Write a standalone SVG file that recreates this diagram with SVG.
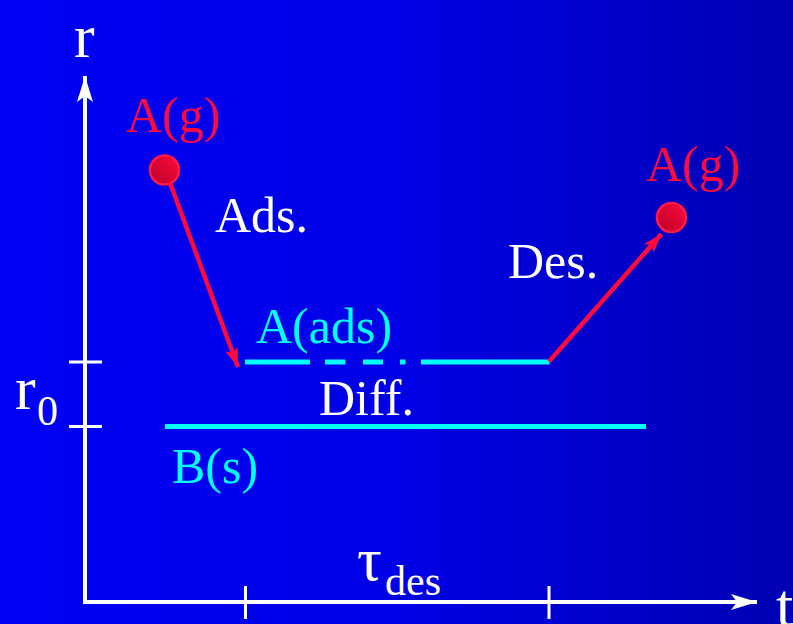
<svg xmlns="http://www.w3.org/2000/svg" width="793" height="624" viewBox="0 0 793 624">
  <defs>
    <linearGradient id="bg" x1="0" y1="0" x2="793" y2="0" gradientUnits="userSpaceOnUse">
      <stop offset="0" stop-color="#0000f4"/>
      <stop offset="0.5" stop-color="#0000e6"/>
      <stop offset="1" stop-color="#0000b2"/>
    </linearGradient>
    <linearGradient id="ball" x1="0" y1="1" x2="1" y2="0">
      <stop offset="0" stop-color="#b8002a"/>
      <stop offset="1" stop-color="#ff0a3c"/>
    </linearGradient>
    <marker id="axisHead" markerUnits="userSpaceOnUse" markerWidth="30" markerHeight="20" viewBox="0 -10 28 20" refX="26" refY="0" orient="auto">
      <path d="M0,-8 L26,0 L0,8 L6,0 Z" fill="#ffffff"/>
    </marker>
    <marker id="redHead" markerUnits="userSpaceOnUse" markerWidth="22" markerHeight="16" viewBox="0 -8 20 16" refX="19" refY="0" orient="auto">
      <path d="M0,-6.5 L19,0 L0,6.5 L4,0 Z" fill="#ff0a3c"/>
    </marker>
    <style>
      text { font-family: "Liberation Serif", "Times New Roman", serif; }
      .lbl { font-size: 50px; }
      .big { font-size: 62px; fill: #ffffff; }
      .sub { font-size: 42px; fill: #ffffff; }
      .white { fill: #ffffff; }
      .red { fill: #ff0a3c; }
      .cyan { fill: #00ffff; }
      .axis { stroke: #ffffff; stroke-width: 4; fill: none; }
      .tick { stroke: #ffffff; stroke-width: 3; fill: none; }
      .level { stroke: #00ffff; stroke-width: 5; fill: none; }
      .arrow { stroke: #ff0a3c; stroke-width: 4.5; fill: none; }
      .ball { fill: url(#ball); stroke: #ff1a44; stroke-width: 2.5; }
    </style>
  </defs>

  <rect x="0" y="0" width="793" height="624" fill="url(#bg)"/>

  <g id="axes">
    <path class="axis" d="M85,604 L85,76" marker-end="url(#axisHead)"/>
    <path class="axis" d="M83,602 L757,602" marker-end="url(#axisHead)"/>
    <path class="tick" d="M69,362 H102 M69,426.5 H102 M245.5,586 V619 M549,586 V619"/>
    <text class="big" x="74" y="57">r</text>
    <text class="big" x="776" y="626">t</text>
    <text class="big" x="15" y="409">r</text>
    <text class="sub" x="37" y="425">0</text>
    <text class="big" x="357" y="580">τ</text>
    <text class="sub" x="385" y="595">des</text>
  </g>

  <g id="A_ads">
    <path class="level" d="M245,362 H310 M325,362 H345.5 M363,362 H383 M400,362 H405.5 M421,362 H549.5"/>
    <text class="lbl cyan" x="256" y="343">A(ads)</text>
  </g>

  <g id="B_s">
    <path class="level" d="M165,426.5 H646"/>
    <text class="lbl cyan" x="172" y="483">B(s)</text>
  </g>

  <g id="A_g_left">
    <circle class="ball" cx="164.5" cy="170" r="14.5"/>
    <text class="lbl red" x="126" y="132">A(g)</text>
  </g>

  <g id="A_g_right">
    <circle class="ball" cx="671.5" cy="217.5" r="14.5"/>
    <text class="lbl red" x="646" y="181">A(g)</text>
  </g>

  <g id="connectors">
    <path class="arrow" d="M170.5,184 L238,367" marker-end="url(#redHead)"/>
    <path class="arrow" d="M549,361.5 L661.5,234" marker-end="url(#redHead)"/>
    <text class="lbl white" x="215" y="232">Ads.</text>
    <text class="lbl white" x="508" y="278">Des.</text>
    <text class="lbl white" x="319" y="415">Diff.</text>
  </g>
</svg>
